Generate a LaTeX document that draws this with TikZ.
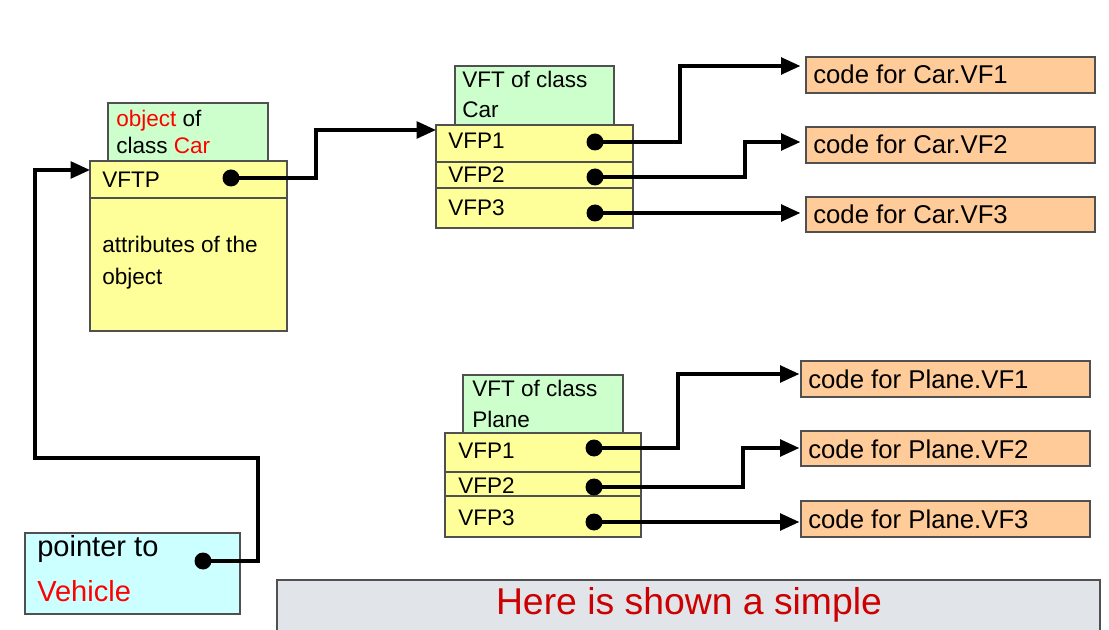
\documentclass[tikz,border=0pt]{standalone}
\usepackage{fontspec}
\setmainfont{Liberation Sans}
\usetikzlibrary{arrows.meta,fit}
\newlength\px
\setlength\px{0.75pt}
\definecolor{yel}{HTML}{FFFF99}
\definecolor{grn}{HTML}{CCFFCC}
\definecolor{cya}{HTML}{CCFFFF}
\definecolor{org}{HTML}{FFCC99}
\definecolor{gry}{HTML}{E1E5EA}
\definecolor{bord}{HTML}{505050}
\definecolor{redtxt}{HTML}{FF0000}
\definecolor{darkred}{HTML}{CC0000}
\tikzset{
  box/.style={draw=bord, line width=1.2\px, inner sep=0pt},
  ybox/.style={box, fill=yel},
  gbox/.style={box, fill=grn},
  cbox/.style={box, fill=cya},
  obox/.style={box, fill=org},
  divider/.style={draw=bord, line width=1.2\px},
  txt/.style={anchor=base west, inner sep=0pt, font=\fontsize{16.9}{20}\selectfont},
  codetxt/.style={anchor=base west, inner sep=0pt, font=\fontsize{19.3}{23}\selectfont},
  bigtxt/.style={anchor=base west, inner sep=0pt, font=\fontsize{21.8}{26}\selectfont},
  dot/.style={circle, fill=black, inner sep=0pt, minimum size=17\px},
  conn/.style={line width=3.4\px, draw=black},
  arr/.style={conn, -{Triangle[length=14.5pt,width=12.5pt]}},
}
\begin{document}
\begin{tikzpicture}[x=0.75pt,y=-0.75pt]
\useasboundingbox (0,0) rectangle (1109,630);

% object of class Car
\node[gbox, fit={(108,103)(268,161)}] (objlab) {};
\node[ybox, fit={(90,161)(287,331)}] (obj) {};
\draw[divider] (90,198) -- (287,198);
\node[txt] (t1) at (116,127) {\textcolor{redtxt}{object} of};
\node[txt] (t2) at (116,154) {class \textcolor{redtxt}{Car}};
\node[txt] (t3) at (102,188) {VFTP};
\node[txt] (t4) at (102,253) {attributes of the};
\node[txt] (t5) at (102,285) {object};
\node[dot] (dvftp) at (231,178) {};

% VFT of class Car
\node[gbox, fit={(455,66)(614,125)}] (carlab) {};
\node[ybox, fit={(436,125)(633,228)}] (cartab) {};
\draw[divider] (436,162) -- (633,162);
\draw[divider] (436,188) -- (633,188);
\node[txt] (t6) at (462,88) {VFT of class};
\node[txt] (t7) at (462,118) {Car};
\node[txt] (t8) at (448,149) {VFP1};
\node[txt] (t9) at (448,183) {VFP2};
\node[txt] (t10) at (448,216) {VFP3};
\node[dot] (cd1) at (595,142) {};
\node[dot] (cd2) at (595,177) {};
\node[dot] (cd3) at (595,213) {};

% VFT of class Plane
\node[gbox, fit={(463,375)(623,433)}] (planelab) {};
\node[ybox, fit={(445,433)(641,537)}] (planetab) {};
\draw[divider] (445,472) -- (641,472);
\draw[divider] (445,496) -- (641,496);
\node[txt] (t11) at (472,397) {VFT of class};
\node[txt] (t12) at (472,427) {Plane};
\node[txt] (t13) at (458,458) {VFP1};
\node[txt] (t14) at (458,493) {VFP2};
\node[txt] (t15) at (458,525) {VFP3};
\node[dot] (pd1) at (594,448) {};
\node[dot] (pd2) at (594,487) {};
\node[dot] (pd3) at (594,522) {};

% code boxes Car
\node[obox, fit={(806,57)(1095,93)}] (cv1) {};
\node[obox, fit={(806,127)(1095,163)}] (cv2) {};
\node[obox, fit={(806,197)(1095,232)}] (cv3) {};
\node[codetxt] (t16) at (813,84) {code for Car.VF1};
\node[codetxt] (t17) at (813,154) {code for Car.VF2};
\node[codetxt] (t18) at (813,224) {code for Car.VF3};

% code boxes Plane
\node[obox, fit={(801,361)(1090,397)}] (pv1) {};
\node[obox, fit={(801,431)(1090,466)}] (pv2) {};
\node[obox, fit={(801,501)(1090,537)}] (pv3) {};
\node[codetxt] (t19) at (808,388) {code for Plane.VF1};
\node[codetxt] (t20) at (808,458) {code for Plane.VF2};
\node[codetxt] (t21) at (808,528) {code for Plane.VF3};

% pointer box
\node[cbox, fit={(25,533)(240,614)}] (ptr) {};
\node[bigtxt] (t22) at (37,556) {pointer to};
\node[bigtxt] (t23) at (37,601) {\textcolor{redtxt}{Vehicle}};
\node[dot] (dptr) at (203,561) {};

% bottom grey box
\node[box, fill=gry, fit={(277,580)(1100,640)}] (note) {};
\node[anchor=base, inner sep=0pt, text=darkred, font=\fontsize{28}{33}\selectfont] (t24) at (689,614) {Here is shown a simple};

% connectors
\coordinate (vftin) at (436,130);
\draw[arr] (dvftp.center) -- (316,178) -- (316,130) -- (vftin);
\coordinate (objin) at (90,170);
\draw[arr] (dptr.center) -- (258,561) -- (258,458) -- (35,458) -- (35,170) -- (objin);

\draw[arr, shorten >=5\px] (cd1.center) -- (680,142) -- (680,66) -- (cv1.west |- 0,66);
\draw[arr, shorten >=5\px] (cd2.center) -- (745,177) -- (745,142) -- (cv2.west |- 0,142);
\draw[arr, shorten >=5\px] (cd3.center) -- (cv3.west |- 0,213);

\draw[arr, shorten >=1\px] (pd1.center) -- (678,448) -- (678,374) -- (pv1.west |- 0,374);
\draw[arr, shorten >=1\px] (pd2.center) -- (743,487) -- (743,448) -- (pv2.west |- 0,448);
\draw[arr, shorten >=1\px] (pd3.center) -- (pv3.west |- 0,522);
\end{tikzpicture}
\end{document}
